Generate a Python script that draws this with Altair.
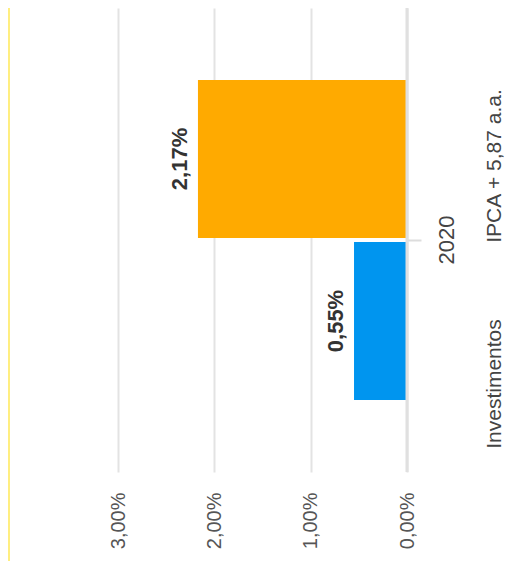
import altair as alt
import pandas as pd

group = ["2020"]
series = ["IPCA + 5,87 a.a.", "Investimentos"]
values = [2.17, 0.55]
labels = ["2,17%", "0,55%"]
colors = ["#FFAA00", "#0095EF"]
ticks = [0, 1, 2, 3]

df = pd.DataFrame({
    "group": group * len(series),
    "series": series,
    "value": values,
    "label": labels,
})

FONT = "Arial, Liberation Sans, Helvetica, sans-serif"

x_enc = alt.X(
    "value:Q",
    scale=alt.Scale(domain=[0, 3], reverse=True),
    axis=alt.Axis(
        values=ticks,
        labelExpr="replace(format(datum.value, '.2f'), '.', ',') + '%'",
        labelAngle=270,
        grid=True,
        gridColor="#e3e3e3",
        gridWidth=2,
        domain=False,
        ticks=False,
        labelPadding=20,
        labelFontSize=20,
        labelColor="#555555",
        labelFont=FONT,
        title=None,
    ),
)
y_enc = alt.Y(
    "group:N",
    scale=alt.Scale(paddingOuter=0.225, paddingInner=0),
    axis=alt.Axis(
        orient="right",
        labelAngle=270,
        labelAlign="center",
        labelBaseline="top",
        tickSize=14,
        tickColor="#dddddd",
        tickWidth=2,
        domain=False,
        labelPadding=15,
        labelFontSize=22,
        labelColor="#444444",
        labelFont=FONT,
        title=None,
    ),
)
yoff_enc = alt.YOffset("series:N", sort=series, scale=alt.Scale(paddingInner=0.025))

bars = alt.Chart(df).mark_bar().encode(
    x=x_enc,
    y=y_enc,
    yOffset=yoff_enc,
    color=alt.Color("series:N", scale=alt.Scale(domain=series, range=colors), legend=None),
)

zero = alt.Chart(pd.DataFrame({"v": [0]})).mark_rule(color="#e0e0e0", strokeWidth=3).encode(
    x=alt.X("v:Q")
)

text = alt.Chart(df).mark_text(
    angle=270, baseline="bottom", align="center", dy=-6,
    fontSize=22, fontWeight="bold", color="#333333", font=FONT,
).encode(
    x=alt.X("value:Q"),
    y=alt.Y("group:N"),
    yOffset=alt.YOffset("series:N", sort=series),
    text="label:N",
)

leg_ipca = alt.Chart(pd.DataFrame({"t": [series[0]]})).mark_text(
    angle=270, align="center", baseline="alphabetic", fontSize=21, color="#444444", font=FONT,
).encode(x=alt.value(383), y=alt.value(158), text="t:N")

leg_inv = alt.Chart(pd.DataFrame({"t": [series[1]]})).mark_text(
    angle=270, align="center", baseline="alphabetic", fontSize=21, color="#444444", font=FONT,
).encode(x=alt.value(383), y=alt.value(376), text="t:N")

border = alt.Chart(pd.DataFrame({"a": [0]})).mark_rule(color="#FFEE80", strokeWidth=2).encode(
    x=alt.value(-109), y=alt.value(0), y2=alt.value(553)
)

chart = alt.layer(bars, zero, text, leg_ipca, leg_inv, border).properties(
    width=289,
    height=464,
    autosize=alt.AutoSizeParams(type="none"),
    padding={"left": 110, "top": 0, "right": 100, "bottom": 89},
).configure_view(stroke=None)

chart.save("out.html", embed_options={"renderer": "svg", "actions": False})
